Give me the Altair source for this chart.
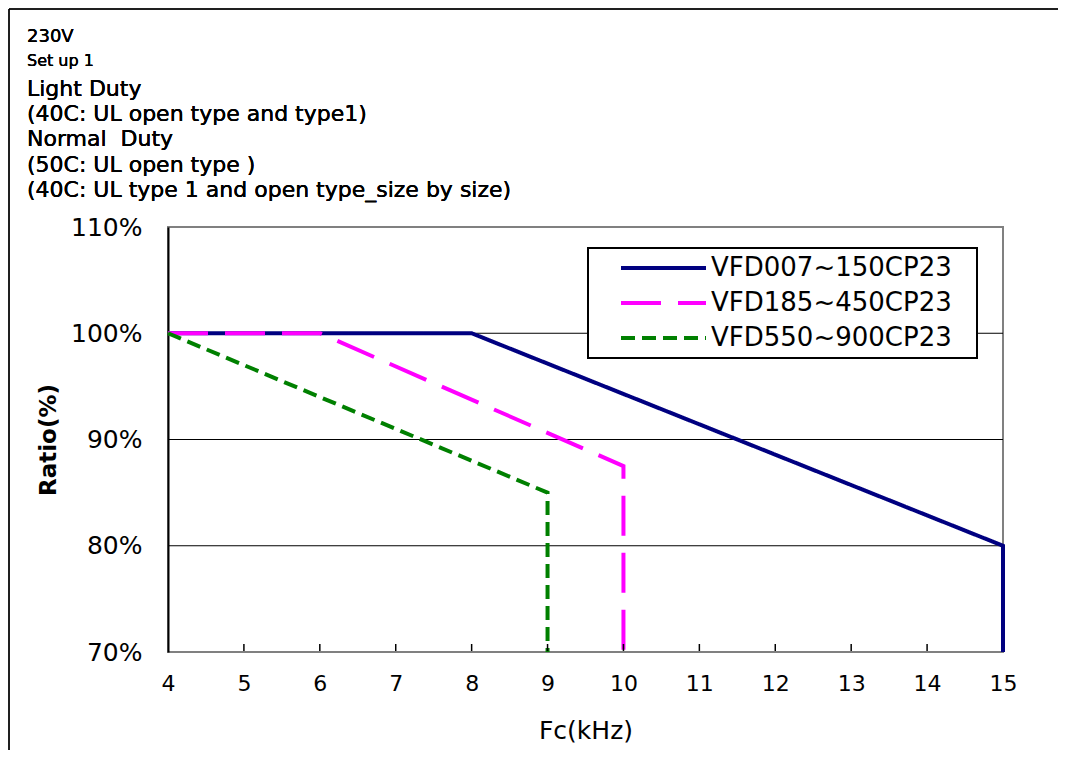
import altair as alt
import pandas as pd

# ---- data ----
series_names = ["VFD007~150CP23", "VFD185~450CP23", "VFD550~900CP23"]
s1_fc = [4, 8, 15, 15]
s1_ratio = [100, 100, 80, 70]
s2_fc = [4, 6, 10, 10]
s2_ratio = [100, 100, 87.5, 70]
s3_fc = [4, 9, 9]
s3_ratio = [100, 85, 70]

x_ticks = [4, 5, 6, 7, 8, 9, 10, 11, 12, 13, 14, 15]
y_ticks = [70, 80, 90, 100, 110]
grid_values = [80, 90, 100]

notes = [
    "230V",
    "Set up 1",
    "Light Duty",
    "(40C: UL open type and type1)",
    "Normal\u00a0 Duty",
    "(50C: UL open type )",
    "(40C: UL type 1 and open type_size by size)",
]

colors = ["#000080", "#FF00FF", "#008000"]
dashes = [[1, 0], [40, 17], [14, 7]]

rows = []
for name, xs, ys in zip(series_names, [s1_fc, s2_fc, s3_fc], [s1_ratio, s2_ratio, s3_ratio]):
    for i, (a, b) in enumerate(zip(xs, ys)):
        rows.append({"series": name, "fc": a, "ratio": b, "idx": i})
df = pd.DataFrame(rows)

W, H = 835, 425
FONT = "DejaVu Sans"

xscale = alt.Scale(domain=[4, 15], nice=False, zero=False)
yscale = alt.Scale(domain=[70, 110], nice=False, zero=False)

lines = alt.Chart(df).mark_line(strokeWidth=4, strokeCap="butt").encode(
    x=alt.X("fc:Q", scale=xscale,
            axis=alt.Axis(title="Fc(kHz)", values=x_ticks, format="d", grid=False,
                          domain=False, ticks=False, labelFontSize=22, labelFont=FONT,
                          labelColor="black", labelPadding=21, titleFontSize=25,
                          titleFont=FONT, titleFontWeight="normal", titleColor="black",
                          titlePadding=24, labelFlush=False)),
    y=alt.Y("ratio:Q", scale=yscale,
            axis=alt.Axis(title="Ratio(%)", values=y_ticks, grid=False, ticks=False,
                          domainColor="black", domainWidth=2,
                          labelExpr="datum.value + '%'", labelFontSize=25, labelFont=FONT,
                          labelColor="black", labelPadding=26, titleFontSize=23,
                          titleFont=FONT, titleFontWeight="bold", titleColor="black",
                          titlePadding=10)),
    color=alt.Color("series:N", scale=alt.Scale(domain=series_names, range=colors),
                    legend=alt.Legend(title="\u00a0", titleOrient="right", titlePadding=18,
                                      titleFontSize=4,
                                      orient="none", legendX=420, legendY=21,
                                      symbolType="stroke", symbolSize=7225,
                                      symbolStrokeWidth=4, symbolOffset=24,
                                      clipHeight=26,
                                      labelFontSize=26, labelFont=FONT, labelColor="black",
                                      labelOffset=3, labelLimit=400, rowPadding=9,
                                      padding=7, strokeColor="black", fillColor="white")),
    strokeDash=alt.StrokeDash("series:N", scale=alt.Scale(domain=series_names, range=dashes),
                              legend=None),
    order=alt.Order("idx:Q"),
)

grid_df = pd.DataFrame({"g": grid_values})
grid = alt.Chart(grid_df).mark_rule(color="black", strokeWidth=1).encode(
    y=alt.Y("g:Q", scale=yscale), x=alt.value(0), x2=alt.value(W)
)

tick_df = pd.DataFrame({"t": x_ticks[1:-1]})
ticks = alt.Chart(tick_df).mark_rule(color="black", strokeWidth=1.5).encode(
    x=alt.X("t:Q", scale=xscale), y=alt.value(H - 1), y2=alt.value(H - 8)
)

border_left = alt.Chart(grid_df).mark_rule(color="black", strokeWidth=1).encode(
    x=alt.value(-159), y=alt.value(-218), y2=alt.value(540)
)
border_top = alt.Chart(grid_df).mark_rule(color="black", strokeWidth=1).encode(
    x=alt.value(-159), x2=alt.value(910), y=alt.value(-218)
)

note_y = [37, 61, 89, 114, 139, 165, 190]
note_size = [18, 16, 22, 22, 22, 22, 22]
note_layers = []
for t, yy, sz in zip(notes, note_y, note_size):
    note_layers.append(
        alt.Chart(grid_df).mark_text(align="left", baseline="middle", font=FONT,
                                     fontSize=sz, fontWeight="normal", color="black").encode(
            x=alt.value(-141), y=alt.value(yy - 227), text=alt.value(t)
        )
    )

chart = alt.layer(grid, lines, ticks, border_left, border_top, *note_layers).properties(
    width=W, height=H,
    padding={"left": 160, "top": 219, "right": 55, "bottom": 98},
    autosize=alt.AutoSizeParams(type="none"),
).configure_view(stroke="#808080", strokeWidth=2).configure_legend(strokeWidth=2)

chart.save("out.html", embed_options={"renderer": "svg", "actions": False})
